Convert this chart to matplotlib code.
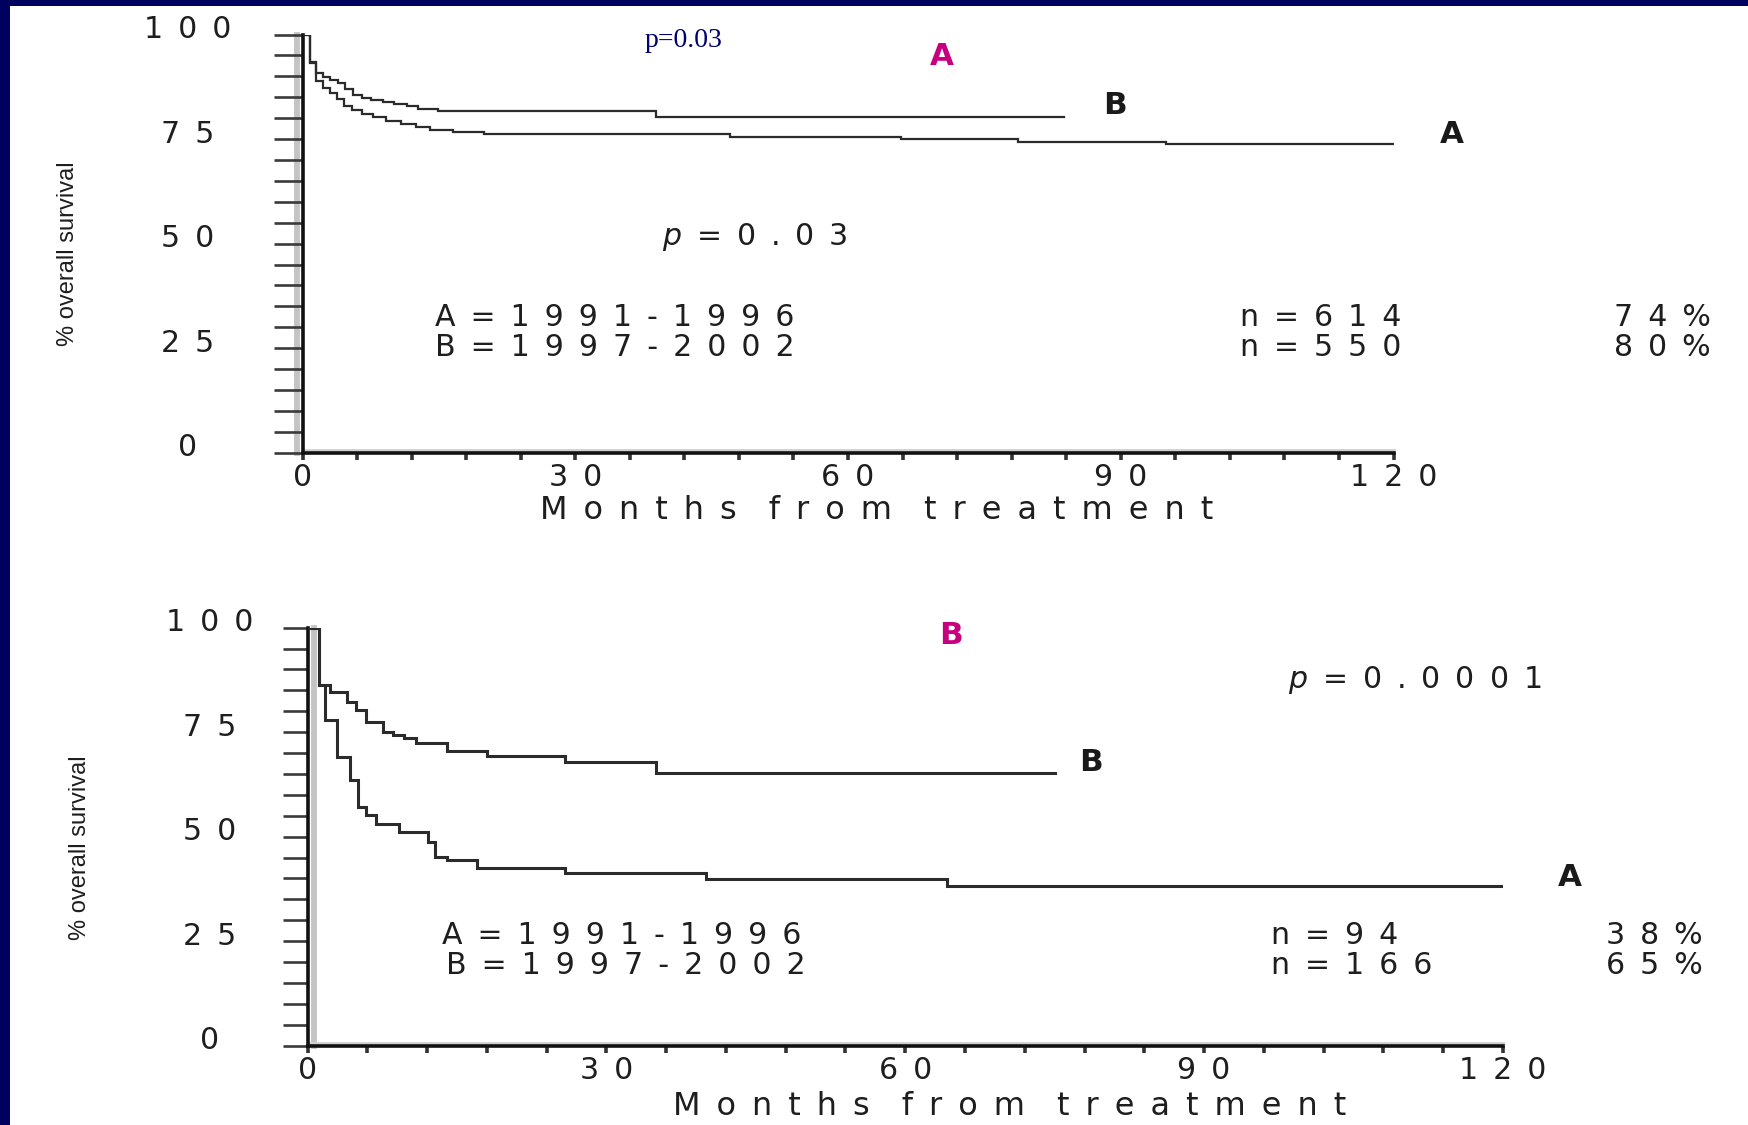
"""
Overall survival by treatment period (1991-1996 vs 1997-2002), two Kaplan-Meier panels.
"""

import matplotlib
matplotlib.use("Agg")
import matplotlib.pyplot as plt
from matplotlib.patches import Rectangle
from matplotlib.transforms import offset_copy, ScaledTranslation

W, H = 1748, 1125
DPI = 100

# Kaplan-Meier steps: months from treatment -> % overall survival
TOP_A_MONTHS = [0, 0.8, 1.5, 2.2, 3.0, 3.8, 4.6, 5.4, 6.5, 7.8, 9.2, 10.8, 12.5, 14.0,
                16.5, 20.0, 47.0, 65.8, 70.9, 78.7, 95.0, 120]
TOP_A_SURV = [100, 93.2, 89.0, 87.3, 86.0, 84.5, 83.0, 82.0, 81.0, 80.2, 79.4, 78.6, 77.8, 77.1,
              76.7, 76.1, 75.5, 75.1, 74.9, 74.3, 73.8, 73.8]
TOP_B_MONTHS = [0, 0.8, 1.5, 2.3, 3.0, 3.9, 4.7, 5.5, 6.5, 7.5, 8.8, 10.1, 11.5, 12.7, 14.9,
                38.9, 83.8]
TOP_B_SURV = [100, 93.5, 90.7, 89.8, 89.1, 88.3, 87.0, 85.5, 84.9, 84.3, 83.8, 83.3, 82.8, 82.3,
              81.6, 80.3, 80.3]

BOT_A_MONTHS = [0, 1.1, 1.7, 2.9, 4.2, 5.1, 5.9, 6.9, 9.2, 12.1, 12.8, 14.0, 17.0, 25.8,
                40.0, 64.2, 120]
BOT_A_SURV = [100, 86.3, 78.0, 69.1, 63.5, 57.2, 55.2, 53.0, 51.0, 48.8, 45.2, 44.4, 42.4, 41.2,
              39.9, 38.3, 38.3]
BOT_B_MONTHS = [0, 1.1, 2.2, 3.9, 4.9, 5.9, 7.6, 8.6, 9.7, 10.9, 14.0, 18.0, 25.8, 35.0, 75.0]
BOT_B_SURV = [100, 86.3, 84.7, 82.3, 80.3, 77.5, 75.1, 74.3, 73.5, 72.5, 70.4, 69.3, 67.8, 65.3,
              65.3]

PERIODS = ["A=1991-1996", "B=1997-2002"]
TOP_N = ["n=614", "n=550"]
TOP_PCT = ["74%", "80%"]
BOT_N = ["n=94", "n=166"]
BOT_PCT = ["38%", "65%"]
TOP_P = "0.03"
BOT_P = "0.0001"

Y_TICKS = [0, 25, 50, 75, 100]
Y_MINOR = list(range(0, 101, 5))
X_TICKS = [0, 30, 60, 90, 120]
X_MINOR = list(range(0, 121, 6))

INK = "#1e1e1e"
CURVE = "#2b2b2b"
MAGENTA = "#c8007f"
NAVY = "#00005e"

EN, EM = "\u2002", "\u2003"


def spread(s):
    # letter-spaced text, wider gap between words
    return EM.join(EN.join(w) for w in s.split(" "))


def fx(x):
    return x / W


def fy(y):
    return 1 - y / H


def make_axes(fig, x0, x1, y_top, y_bot):
    return fig.add_axes([fx(x0), fy(y_bot), (x1 - x0) / W, (y_bot - y_top) / H])


def style_axes(ax, fig, ytick_len, ytick_pad, xlabel_xy, ylabel_xy, shadow_dx):
    ax.set_xlim(0, 120)
    ax.set_ylim(0, 100)
    for side in ("top", "right"):
        ax.spines[side].set_visible(False)
    for side in ("left", "bottom"):
        ax.spines[side].set_linewidth(2.6)
        ax.spines[side].set_color("#111111")

    ax.set_yticks(Y_TICKS, labels=[spread(str(v)) for v in Y_TICKS])
    ax.set_yticks(Y_MINOR, minor=True)
    ax.set_xticks(X_TICKS, labels=[spread(str(v)) for v in X_TICKS])
    ax.set_xticks(X_MINOR, minor=True)
    ax.tick_params(axis="y", which="both", direction="out", length=ytick_len, width=1.9,
                   color="#3a3a3a", pad=ytick_pad, labelsize=21.6, labelcolor=INK)
    ax.tick_params(axis="x", which="both", direction="out", length=5, width=2.6,
                   color="#333333", pad=2.4, labelsize=21.6, labelcolor=INK)
    # y labels sit centred under the long ticks, slightly above their level
    lift = ScaledTranslation(0, 8 / DPI, fig.dpi_scale_trans)
    for tick in ax.yaxis.get_major_ticks():
        tick.label1.set_horizontalalignment("center")
        tick.label1.set_transform(tick.label1.get_transform() + lift)

    ax.set_xlabel(spread("Months from treatment"), fontsize=23, color=INK)
    ax.xaxis.set_label_coords(*xlabel_xy)
    ax.xaxis.label.set_verticalalignment("center")
    ax.set_ylabel("% overall survival", fontsize=17, color=INK, family="Liberation Sans")
    ax.yaxis.set_label_coords(*ylabel_xy)
    ax.yaxis.label.set_verticalalignment("center")

    # soft grey double line of the scanned axes
    v = ax.axvline(0, color="#c4c4c4", lw=4.2, clip_on=False, zorder=1.5)
    v.set_transform(offset_copy(v.get_transform(), fig=fig, x=shadow_dx, y=0, units="dots"))
    h = ax.axhline(0, color="#cfcfcf", lw=2.0, clip_on=False, zorder=1.5)
    h.set_transform(offset_copy(h.get_transform(), fig=fig, x=0, y=3, units="dots"))


def draw_curve(ax, months, surv, lw, name, offset):
    ax.plot(months, surv, drawstyle="steps-post", color=CURVE, lw=lw,
            solid_joinstyle="miter", zorder=3)
    ax.annotate(name, xy=(months[-1], surv[-1]), xytext=offset, textcoords="offset pixels",
                ha="center", va="baseline", fontsize=22.3, fontweight="bold", color="#1a1a1a")


fig = plt.figure(figsize=(W / DPI, H / DPI), dpi=DPI, facecolor="white")

# slide frame
fig.add_artist(Rectangle((0, fy(6)), 1, 6 / H, transform=fig.transFigure,
                         color=NAVY, lw=0, zorder=10))
fig.add_artist(Rectangle((0, 0), fx(10), 1, transform=fig.transFigure,
                         color=NAVY, lw=0, zorder=10))

# ---- panel A: all patients
ax1 = make_axes(fig, 302.5, 1393.5, 34.5, 452.7)
style_axes(ax1, fig, ytick_len=20.9, ytick_pad=61.6, xlabel_xy=(0.526, -0.1384),
           ylabel_xy=(-0.215, 0.475), shadow_dx=-6)
draw_curve(ax1, TOP_B_MONTHS, TOP_B_SURV, 1.6, "B", (51, 3))
draw_curve(ax1, TOP_A_MONTHS, TOP_A_SURV, 1.6, "A", (58, 1))

fig.text(fx(645), fy(47), f"p={TOP_P}", family="Liberation Serif", fontsize=20,
         color="#000070", va="baseline")
fig.text(fx(942), fy(65), "A", fontsize=22.3, fontweight="bold", color=MAGENTA,
         ha="center", va="baseline")
fig.text(fx(662), fy(245), "$p$" + EN + spread("=" + TOP_P), fontsize=21.6, color=INK,
         va="baseline")
for i, base in enumerate([326, 356]):
    fig.text(fx(435), fy(base), spread(PERIODS[i]), fontsize=21.6, color=INK, va="baseline")
    fig.text(fx(1240), fy(base), spread(TOP_N[i]), fontsize=21.6, color=INK, va="baseline")
    fig.text(fx(1614), fy(base), spread(TOP_PCT[i]), fontsize=21.6, color=INK, va="baseline")

# ---- panel B
ax2 = make_axes(fig, 307.7, 1502.8, 627.6, 1045.7)
style_axes(ax2, fig, ytick_len=18.0, ytick_pad=52.3, xlabel_xy=(0.587, -0.1466),
           ylabel_xy=(-0.1905, 0.473), shadow_dx=6)
draw_curve(ax2, BOT_B_MONTHS, BOT_B_SURV, 2.2, "B", (36, 2))
draw_curve(ax2, BOT_A_MONTHS, BOT_A_SURV, 2.2, "A", (67, 0))

fig.text(fx(951), fy(644), "B", fontsize=22.3, fontweight="bold", color=MAGENTA,
         ha="center", va="baseline")
fig.text(fx(1288), fy(688), "$p$" + EN + spread("=" + BOT_P), fontsize=21.6, color=INK,
         va="baseline")
for i, base in enumerate([944, 974]):
    fig.text(fx(442 + 4 * i), fy(base), spread(PERIODS[i]), fontsize=21.6, color=INK,
             va="baseline")
    fig.text(fx(1271), fy(base), spread(BOT_N[i]), fontsize=21.6, color=INK, va="baseline")
    fig.text(fx(1606), fy(base), spread(BOT_PCT[i]), fontsize=21.6, color=INK, va="baseline")

fig.savefig("out.png", dpi=DPI, facecolor="white")
print("Plot saved -> out.png")
